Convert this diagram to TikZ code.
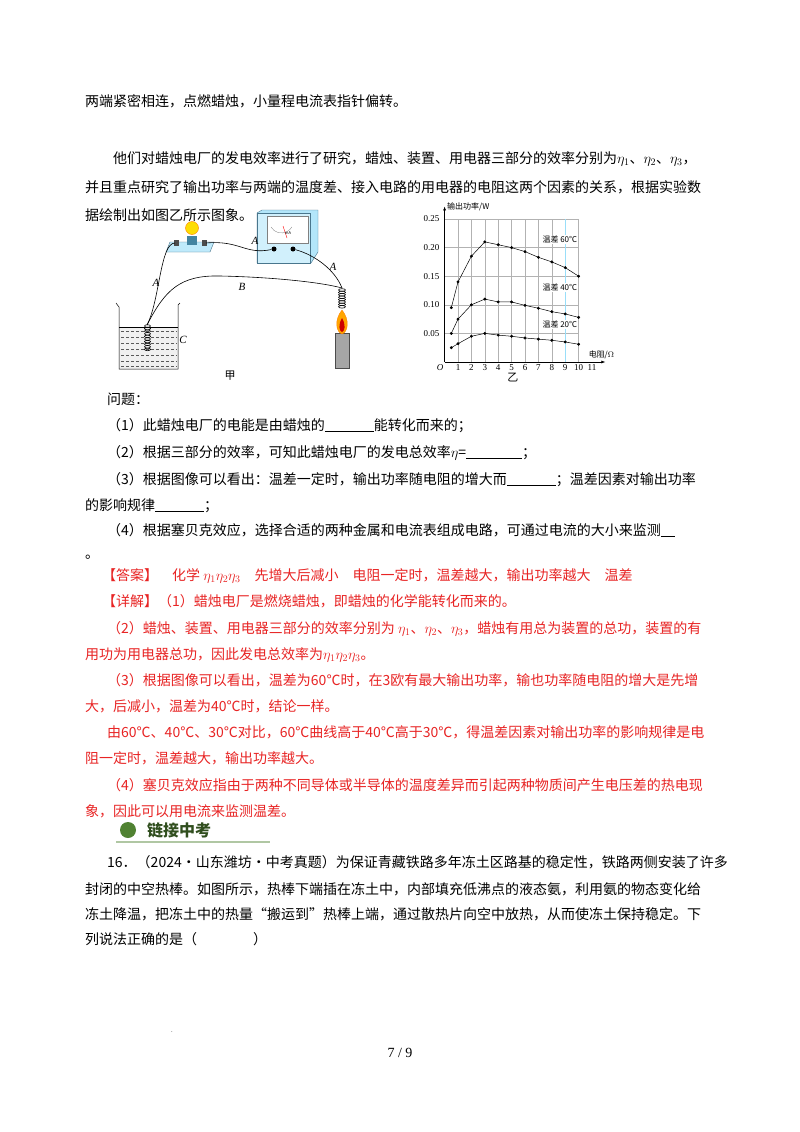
\documentclass[tikz,border=0pt]{standalone}
\usepackage{fontspec}
\setmainfont{Noto Sans CJK SC}
\newfontfamily\lser{Liberation Serif}
\usetikzlibrary{arrows.meta}
\definecolor{ansred}{RGB}{232,36,36}
\definecolor{hgreen}{RGB}{80,130,50}
\begin{document}
\begin{tikzpicture}[x=1pt,y=-1pt,
  tl/.style={anchor=base west,inner sep=0pt,font=\fontsize{14}{14}\selectfont},
  rl/.style={tl,text=ansred},
  tk/.style={font=\lser\fontsize{9}{9}\selectfont,inner sep=1pt},
  lab/.style={font=\lser\itshape\fontsize{11}{11}\selectfont,inner sep=0pt},
  wire/.style={line width=0.6pt}]
\useasboundingbox[fill=white] (0,0) rectangle (800,1132);
% ---------- text ----------
\node[tl] (t1) at (85,106) {两端紧密相连，点燃蜡烛，小量程电流表指针偏转。};
\node[tl] (t2) at (113,163) {他们对蜡烛电厂的发电效率进行了研究，蜡烛、装置、用电器三部分的效率分别为$\eta_1$、$\eta_2$、$\eta_3$，};
\node[tl] (t3) at (85,192) {并且重点研究了输出功率与两端的温度差、接入电路的用电器的电阻这两个因素的关系，根据实验数};
\node[tl] (t4) at (85,220) {据绘制出如图乙所示图象。};
\node[tl] (q0) at (107,404) {问题：};
\node[tl] (q1) at (107,430) {（1）此蜡烛电厂的电能是由蜡烛的\underline{\hspace{3.5em}}能转化而来的；};
\node[tl] (q2) at (107,457) {（2）根据三部分的效率，可知此蜡烛电厂的发电总效率$\eta$=\underline{\hspace{4em}}；};
\node[tl] (q3) at (107,484) {（3）根据图像可以看出：温差一定时，输出功率随电阻的增大而\underline{\hspace{3.5em}}；温差因素对输出功率};
\node[tl] (q3b) at (85,510) {的影响规律\underline{\hspace{3.5em}}；};
\node[tl] (q4) at (107,535) {（4）根据塞贝克效应，选择合适的两种金属和电流表组成电路，可通过电流的大小来监测\underline{\hspace{1em}}};
\node[tl] (q4b) at (85,558) {。};
\node[rl] (a0) at (102,580) {【答案】\hspace{1em}化学 $\eta_1\eta_2\eta_3$\hspace{1em}先增大后减小\hspace{1em}电阻一定时，温差越大，输出功率越大\hspace{1em}温差};
\node[rl] (a1) at (102,606) {【详解】（1）蜡烛电厂是燃烧蜡烛，即蜡烛的化学能转化而来的。};
\node[rl] (a2) at (107,633) {（2）蜡烛、装置、用电器三部分的效率分别为 $\eta_1$、$\eta_2$、$\eta_3$，蜡烛有用总为装置的总功，装置的有};
\node[rl] (a2b) at (85,659) {用功为用电器总功，因此发电总效率为$\eta_1\eta_2\eta_3$。};
\node[rl] (a3) at (107,685) {（3）根据图像可以看出，温差为60℃时，在3欧有最大输出功率，输也功率随电阻的增大是先增};
\node[rl] (a3b) at (85,711) {大，后减小，温差为40℃时，结论一样。};
\node[rl] (a3c) at (107,737) {由60℃、40℃、30℃对比，60℃曲线高于40℃高于30℃，得温差因素对输出功率的影响规律是电};
\node[rl] (a3d) at (85,763) {阻一定时，温差越大，输出功率越大。};
\node[rl] (a4) at (107,790) {（4）塞贝克效应指由于两种不同导体或半导体的温度差异而引起两种物质间产生电压差的热电现};
\node[rl] (a4b) at (85,816) {象，因此可以用电流来监测温差。};
% header
\draw[hgreen!45,line width=1.2pt] (116,842) -- (270,842);
\node[circle,fill=hgreen,minimum size=16pt,inner sep=0pt] (hc) at (128,830) {};
\node[anchor=west,inner sep=0pt,text=hgreen!60!black,font=\bfseries\fontsize{16}{16}\selectfont] (ht) at (147,830) {链接中考};
\node[tl] (p1) at (107,867) {16．（2024·山东潍坊·中考真题）为保证青藏铁路多年冻土区路基的稳定性，铁路两侧安装了许多};
\node[tl] (p2) at (85,894) {封闭的中空热棒。如图所示，热棒下端插在冻土中，内部填充低沸点的液态氨，利用氨的物态变化给};
\node[tl] (p3) at (85,919) {冻土降温，把冻土中的热量“搬运到”热棒上端，通过散热片向空中放热，从而使冻土保持稳定。下};
\node[tl] (p4) at (85,944) {列说法正确的是（\hspace{4em}）};
\node[font=\fontsize{6}{6}\selectfont,inner sep=0pt] (fd) at (172,1032) {.};
\node[font=\lser\fontsize{14}{14}\selectfont,inner sep=0pt] (pg) at (400,1053) {7 / 9};
% ---------- graph ----------
\begin{scope}[shift={(444.6,362)},x=13.4pt,y=572pt]
  \draw[gray!60,line width=0.4pt] (0,0.05) grid[xstep=1,ystep=0.05] (10,0.25);
  \foreach \x in {1,...,10}\draw[gray!60,line width=0.4pt] (\x,0) -- (\x,0.25);
  \draw[cyan!40,line width=0.5pt] (9,0) -- (9,0.25);
  \draw[-{Latex[length=4pt]},line width=0.6pt] (0,0) -- (12,0);
  \draw[-{Latex[length=4pt]},line width=0.6pt] (0,0) -- (0,0.272);
  \node[anchor=west,font=\fontsize{8}{8}\selectfont,inner sep=1pt] (yl) at (0.1,0.272) {输出功率/W};
  \node[anchor=south,font=\fontsize{8}{8}\selectfont,inner sep=1pt] (xl) at (11.7,0.003) {电阻/$\Omega$};
  \node[tk,anchor=north east,font=\lser\itshape\fontsize{9}{9}\selectfont] (o) at (0,-0.003) {O};
  \foreach \x in {1,...,11}\node[tk,anchor=north] (x\x) at (\x,-0.003) {\x};
  \foreach \y/\l in {0.05/0.05,0.10/0.10,0.15/0.15,0.20/0.20,0.25/0.25}\node[tk,anchor=east] (y\l) at (-0.3,\y) {\l};
  \node[font=\fontsize{11}{11}\selectfont] (yi) at (5.1,-0.028) {乙};
  \draw[line width=0.5pt] plot[mark=*,mark size=1.2pt] coordinates {(0.5,0.095)(1,0.14)(2,0.185)(3,0.21)(4,0.205)(5,0.2)(6,0.193)(7,0.183)(8,0.175)(9,0.165)(10,0.15)};
  \draw[line width=0.5pt] plot[mark=*,mark size=1.2pt] coordinates {(0.5,0.05)(1,0.075)(2,0.1)(3,0.11)(4,0.105)(5,0.105)(6,0.099)(7,0.094)(8,0.088)(9,0.084)(10,0.078)};
  \draw[line width=0.5pt] plot[mark=*,mark size=1.2pt] coordinates {(0.5,0.025)(1,0.032)(2,0.045)(3,0.05)(4,0.047)(5,0.045)(6,0.042)(7,0.04)(8,0.038)(9,0.035)(10,0.031)};
  \node[font=\fontsize{8}{8}\selectfont,fill=white,inner sep=1pt] (l60) at (8.6,0.214) {温差 60℃};
  \node[font=\fontsize{8}{8}\selectfont,fill=white,inner sep=1pt] (l40) at (8.6,0.13) {温差 40℃};
  \node[font=\fontsize{8}{8}\selectfont,fill=white,inner sep=1pt] (l20) at (8.6,0.065) {温差 20℃};
\end{scope}
% ---------- apparatus ----------
\draw[fill=cyan!25,draw=cyan!50!black,line width=0.4pt] (170,242) -- (214,242) -- (210,252) -- (166,252) -- cycle;
\fill[fill=black!70] (174,240) rectangle (179,246);
\fill[fill=black!70] (202,240) rectangle (207,246);
\fill[cyan!60!black] (187,236) rectangle (197,245);
\node[circle,fill=yellow!80!orange,draw=orange,minimum size=13pt,inner sep=0pt] (bulb) at (192,228) {};
\coordinate (bl) at (175,243);
\coordinate (br) at (206,243);
% meter
\draw[fill=cyan!30,draw=cyan!50!black,line width=0.4pt] (257,256) -- (257,213) -- (262,210) -- (318,210) -- (318,252) -- (311,263) -- (257,263) -- cycle;
\draw[draw=cyan!50!black,fill=cyan!18,line width=0.3pt] (257,213) rectangle (310,263);
\draw[fill=white,draw=gray] (267,216) rectangle (308,243);
\draw[gray,line width=0.3pt] (271,227) arc (150:30:12);
\draw[red,line width=0.4pt] (287,238) -- (283,226);
\node[font=\fontsize{4}{4}\selectfont,inner sep=0pt] (mua) at (288,233) {mA};
\node[circle,fill=black,minimum size=5pt,inner sep=0pt] (m1) at (274,249) {};
\node[circle,fill=black,minimum size=5pt,inner sep=0pt] (m2) at (293,249) {};
% beaker
\fill[gray!12] (119,327) rectangle (178,369);
\foreach \yy in {331,337,343,349,355,361,366}{
  \draw[dash pattern=on 3pt off 2pt,gray!70!black,line width=0.5pt] (121,\yy) -- (177,\yy);}
\draw[line width=0.5pt] (116,303) -- (119,307) -- (119,369) -- (178,369) -- (178,305) -- (180,303);
\draw[line width=0.4pt] (119,327) -- (178,327);
\foreach \k in {0,...,9}\draw[line width=0.6pt] (147.5,{326+2.6*\k}) ellipse (3pt and 1.3pt);
\coordinate (c1) at (147,325);
\foreach \k in {0,...,7}\draw[line width=0.6pt] (342,{290+2.4*\k}) ellipse (3.5pt and 1.3pt);
\coordinate (c2) at (342,288);
% candle
\draw[fill=gray!70,draw=black!70] (335,333) rectangle (349,368);
\draw[fill=orange!70!yellow,draw=orange] (342,310) .. controls (350,320) and (348,332) .. (342,334) .. controls (336,332) and (334,320) .. (342,310);
\fill[red!80!black] (342,318) .. controls (346,325) and (345,331) .. (342,332) .. controls (339,331) and (338,325) .. (342,318);
% wires
\draw[wire] (bl) .. controls (160,243) and (160,300) .. (c1);
\draw[wire] (c1) .. controls (165,290) and (180,275) .. (220,276) .. controls (270,277) and (320,282) .. (c2);
\draw[wire] (br) .. controls (240,240) and (245,255) .. (m1);
\draw[wire] (m2) .. controls (315,255) and (335,270) .. (c2);
\node[lab] (la1) at (156,283) {A};
\node[lab] (lb) at (242,287) {B};
\node[lab] (la2) at (255,241) {A};
\node[lab] (la3) at (333,267) {A};
\node[lab] (lc) at (183,340) {C};
\node[font=\fontsize{11}{11}\selectfont] (jia) at (230,376) {甲};
\end{tikzpicture}
\end{document}
